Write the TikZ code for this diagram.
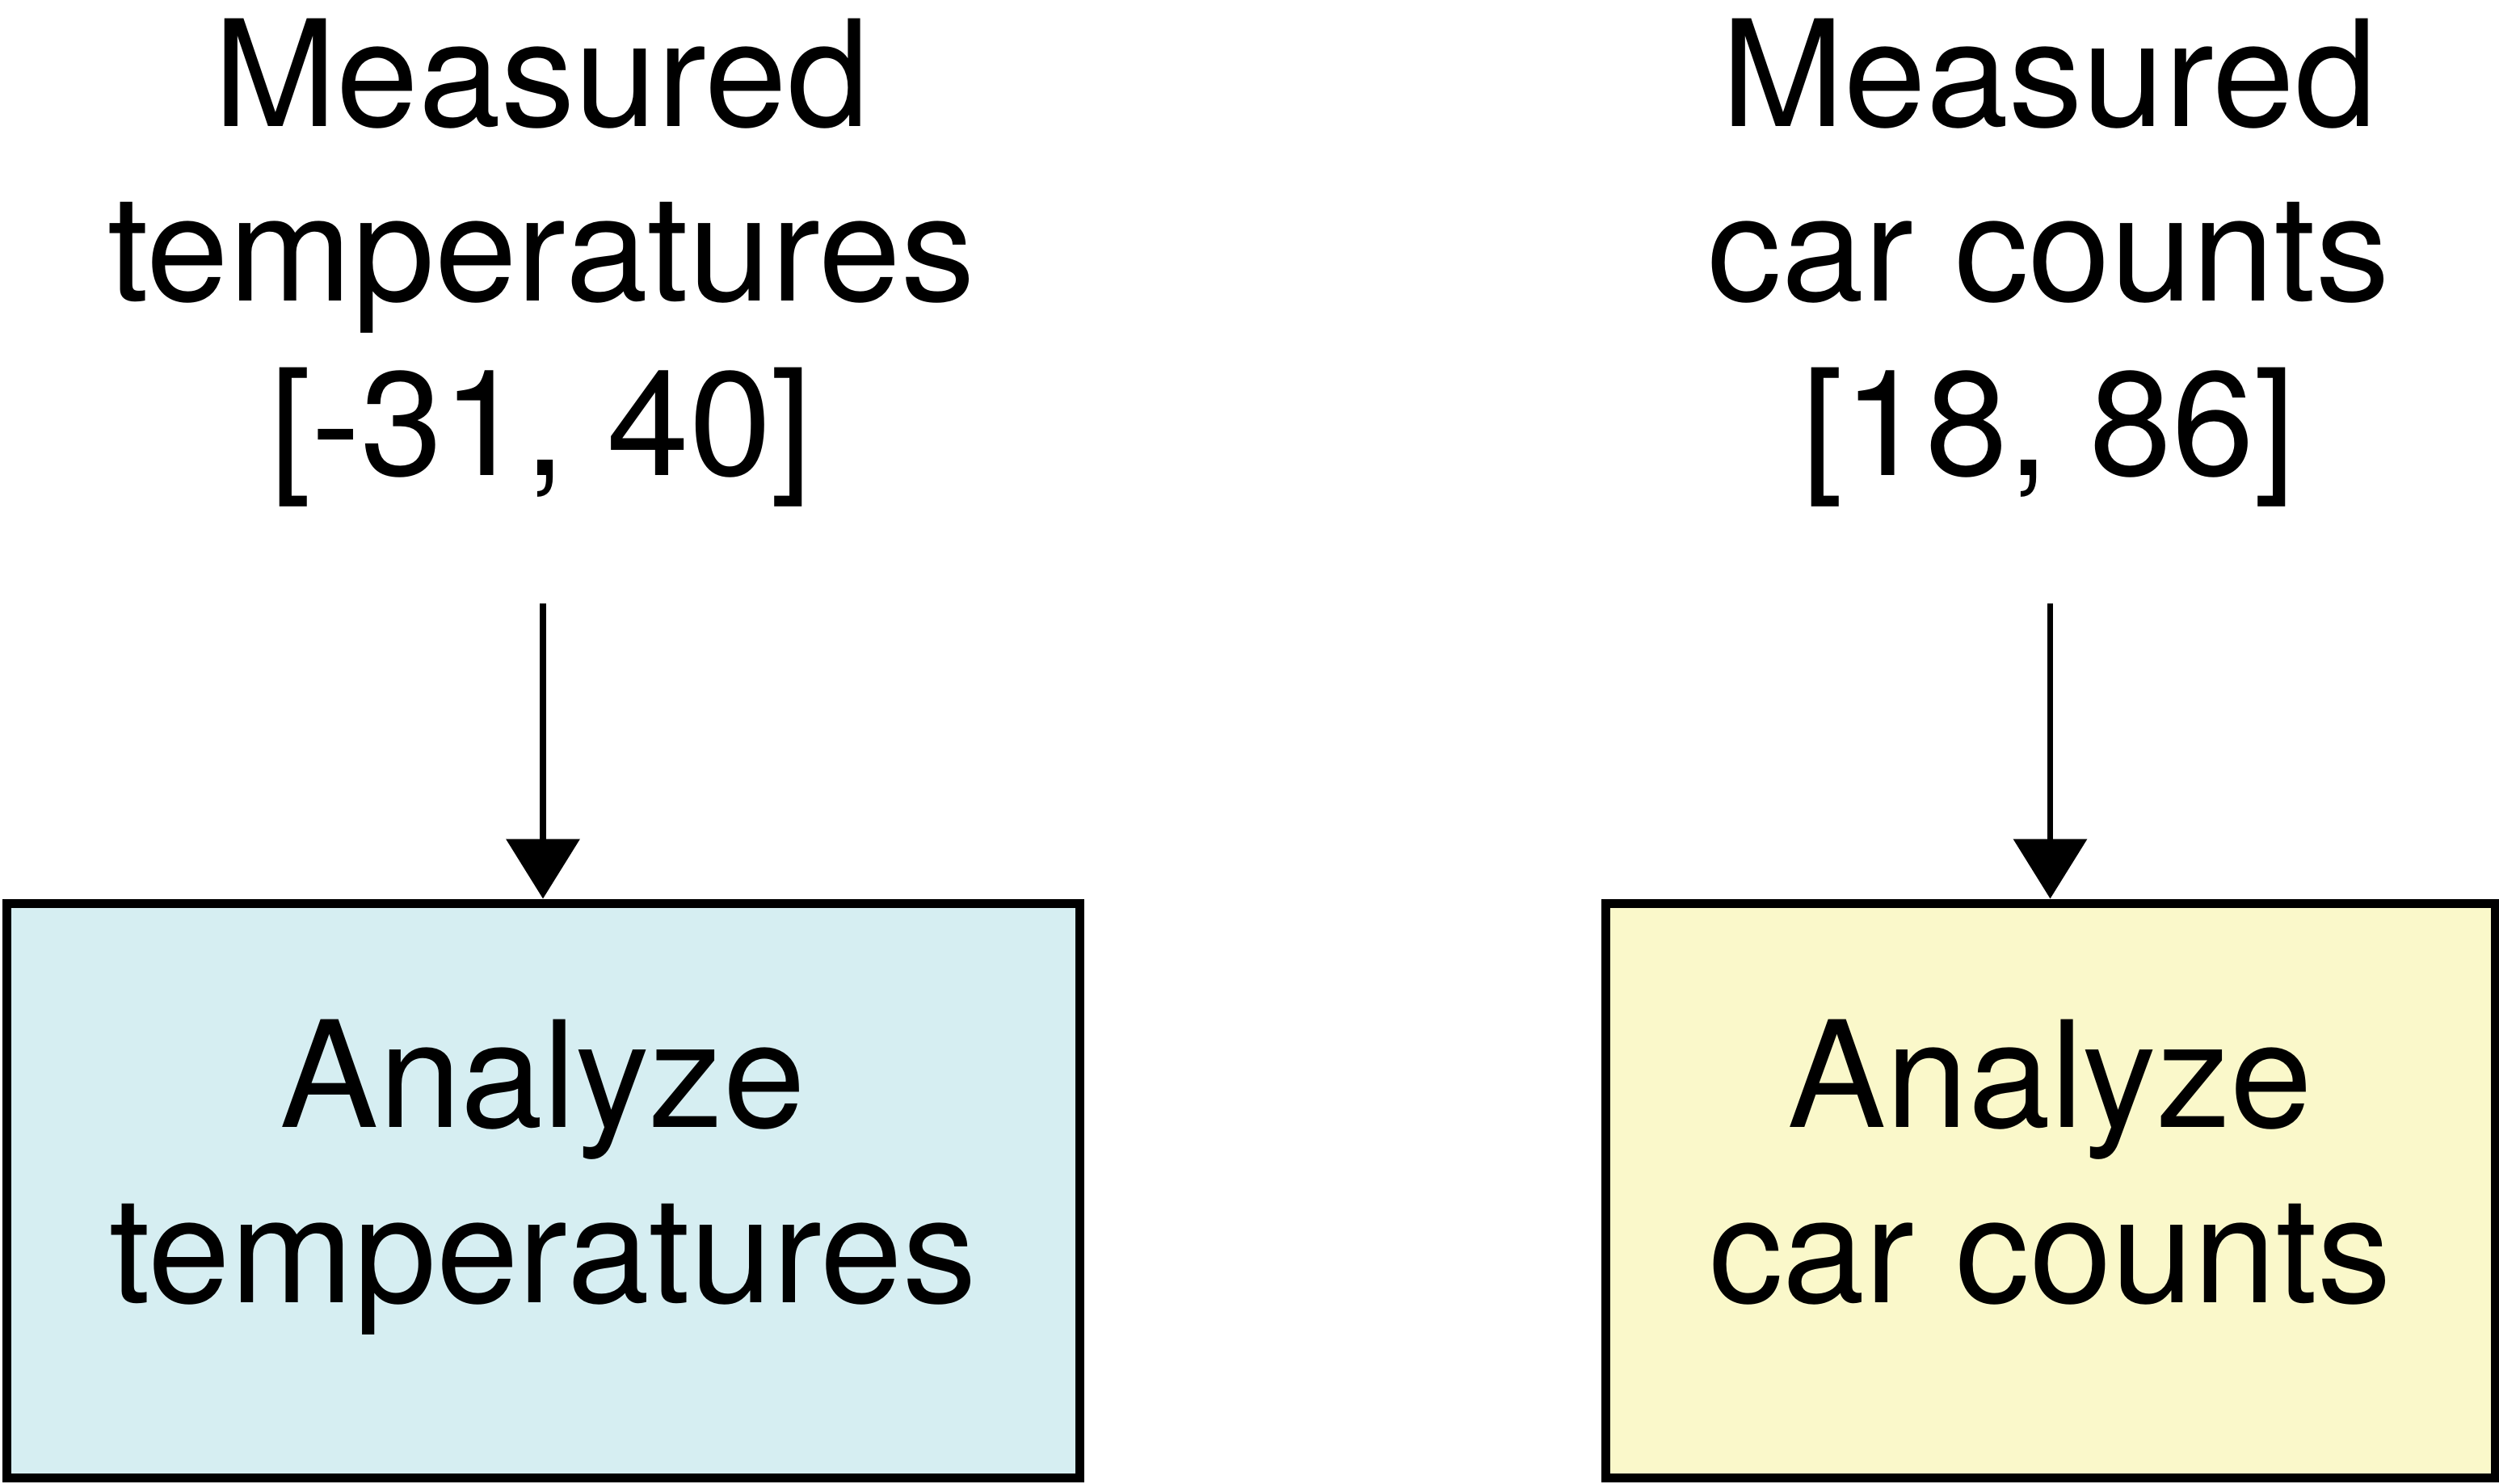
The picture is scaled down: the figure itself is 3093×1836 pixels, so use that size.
\documentclass[tikz,border=0pt]{standalone}
\usepackage{fontspec}
\setmainfont{TeX Gyre Heros}
\usetikzlibrary{arrows.meta}
\definecolor{bluefill}{RGB}{214,238,242}
\definecolor{yellowfill}{RGB}{250,248,202}
\begin{document}
\begin{tikzpicture}[x=1pt,y=-1pt,
  lbl/.style={align=center,inner sep=0pt,font=\fontsize{183}{216}\selectfont},
  boxnode/.style={draw,line width=11pt,minimum height=711pt,inner sep=0pt,align=center,
    text height=277pt,text depth=0pt,font=\fontsize{183}{217}\selectfont},
  arr/.style={line width=7.5pt,-{Triangle[width=90pt,length=74pt]}}]
\useasboundingbox (0,0) rectangle (3093,1836);
\node[lbl,anchor=base] (t1) at (670,588) {Measured\\temperatures\\{[}-31, 40{]}};
\node[lbl,anchor=base] (t2) at (2536,588) {Measured\\car counts\\{[}18, 86{]}};
\node[boxnode,fill=bluefill,minimum width=1328pt] (b1) at (672,1473.5) {Analyze\\temperatures};
\node[boxnode,fill=yellowfill,minimum width=1101pt] (b2) at (2537.5,1473.5) {Analyze\\car counts};
\coordinate (s1) at (672,747);
\coordinate (s2) at (2537.5,747);
\draw[arr] (s1) -- (b1.north);
\draw[arr] (s2) -- (b2.north);
\end{tikzpicture}
\end{document}
